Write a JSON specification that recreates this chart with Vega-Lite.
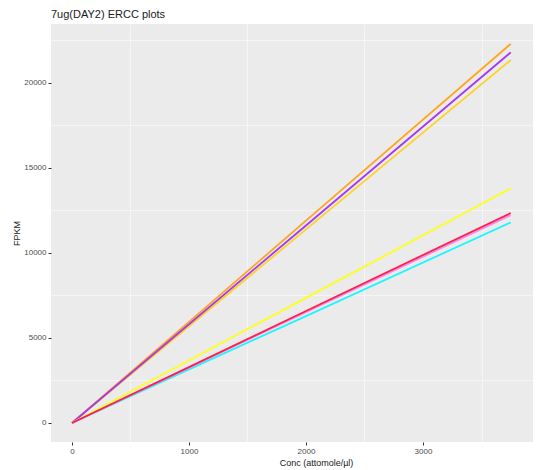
{
  "$schema": "https://vega.github.io/schema/vega-lite/v6.json",
  "width": 482,
  "height": 418,
  "autosize": {"type": "none"},
  "padding": {"left": 51, "top": 24, "right": 3, "bottom": 28},
  "background": "white",
  "title": {
    "text": "7ug(DAY2) ERCC plots",
    "anchor": "start",
    "frame": "group",
    "offset": 4,
    "fontSize": 11,
    "fontWeight": "normal",
    "font": "Liberation Sans",
    "color": "#1a1a1a"
  },
  "config": {
    "view": {"fill": "#EBEBEB", "stroke": null},
    "axis": {
      "domain": false,
      "gridColor": "white",
      "gridWidth": 1.1,
      "labelFont": "Liberation Sans",
      "titleFont": "Liberation Sans",
      "labelColor": "#4D4D4D",
      "labelFontSize": 8,
      "tickColor": "#333333",
      "tickSize": 3,
      "titleFontWeight": "normal",
      "titleColor": "#1a1a1a",
      "titleFontSize": 9
    }
  },
  "data": {
    "values": [
      {"run": "A", "conc": 0, "fpkm": 0},
      {"run": "A", "conc": 1000, "fpkm": 5950},
      {"run": "A", "conc": 2000, "fpkm": 11900},
      {"run": "A", "conc": 3750, "fpkm": 22300},
      {"run": "B", "conc": 0, "fpkm": 0},
      {"run": "B", "conc": 1000, "fpkm": 5690},
      {"run": "B", "conc": 2000, "fpkm": 11390},
      {"run": "B", "conc": 3750, "fpkm": 21350},
      {"run": "C", "conc": 0, "fpkm": 0},
      {"run": "C", "conc": 1000, "fpkm": 5810},
      {"run": "C", "conc": 2000, "fpkm": 11620},
      {"run": "C", "conc": 3750, "fpkm": 21800},
      {"run": "D", "conc": 0, "fpkm": 0},
      {"run": "D", "conc": 1000, "fpkm": 3680},
      {"run": "D", "conc": 2000, "fpkm": 7360},
      {"run": "D", "conc": 3750, "fpkm": 13800},
      {"run": "E", "conc": 0, "fpkm": 0},
      {"run": "E", "conc": 1000, "fpkm": 3150},
      {"run": "E", "conc": 2000, "fpkm": 6290},
      {"run": "E", "conc": 3750, "fpkm": 11800},
      {"run": "F", "conc": 0, "fpkm": 0},
      {"run": "F", "conc": 1000, "fpkm": 3260},
      {"run": "F", "conc": 2000, "fpkm": 6520},
      {"run": "F", "conc": 3750, "fpkm": 12220},
      {"run": "G", "conc": 0, "fpkm": 0},
      {"run": "G", "conc": 1000, "fpkm": 3290},
      {"run": "G", "conc": 2000, "fpkm": 6590},
      {"run": "G", "conc": 3750, "fpkm": 12350}
    ]
  },
  "layer": [
    {
      "mark": {"type": "line", "opacity": 0},
      "encoding": {
        "x": {
          "field": "conc", "type": "quantitative",
          "scale": {"domain": [-179, 3940], "nice": false, "zero": false},
          "axis": {"orient": "bottom", "values": [500, 1500, 2500, 3500], "grid": true, "gridWidth": 0.5, "labels": false, "ticks": false, "title": null}
        },
        "y": {
          "field": "fpkm", "type": "quantitative",
          "scale": {"domain": [-1118, 23470], "nice": false, "zero": false},
          "axis": {"orient": "left", "values": [2500, 7500, 12500, 17500, 22500], "grid": true, "gridWidth": 0.5, "labels": false, "ticks": false, "title": null}
        },
        "detail": {"field": "run"}
      }
    },
    {
      "mark": {"type": "line", "strokeWidth": 1.8},
      "encoding": {
        "x": {
          "field": "conc", "type": "quantitative",
          "scale": {"domain": [-179, 3940], "nice": false, "zero": false},
          "axis": {"orient": "bottom", "values": [0, 1000, 2000, 3000], "format": "d", "labelPadding": 2, "title": "Conc (attomole/µl)", "titlePadding": 3, "titleX": 265}
        },
        "y": {
          "field": "fpkm", "type": "quantitative",
          "scale": {"domain": [-1118, 23470], "nice": false, "zero": false},
          "axis": {"orient": "left", "values": [0, 5000, 10000, 15000, 20000], "format": "d", "labelPadding": 2, "title": "FPKM", "titlePadding": 2}
        },
        "color": {
          "field": "run", "type": "nominal",
          "scale": {
            "domain": ["A", "B", "C", "D", "E", "F", "G"],
            "range": ["#FFA51F", "#FFD226", "#A33AF0", "#FFFF1A", "#1FF5FF", "#F08CF0", "#FF1F4B"]
          },
          "legend": null
        },
        "order": {"field": "run"}
      }
    }
  ],
  "resolve": {"axis": {"x": "independent", "y": "independent"}}
}
